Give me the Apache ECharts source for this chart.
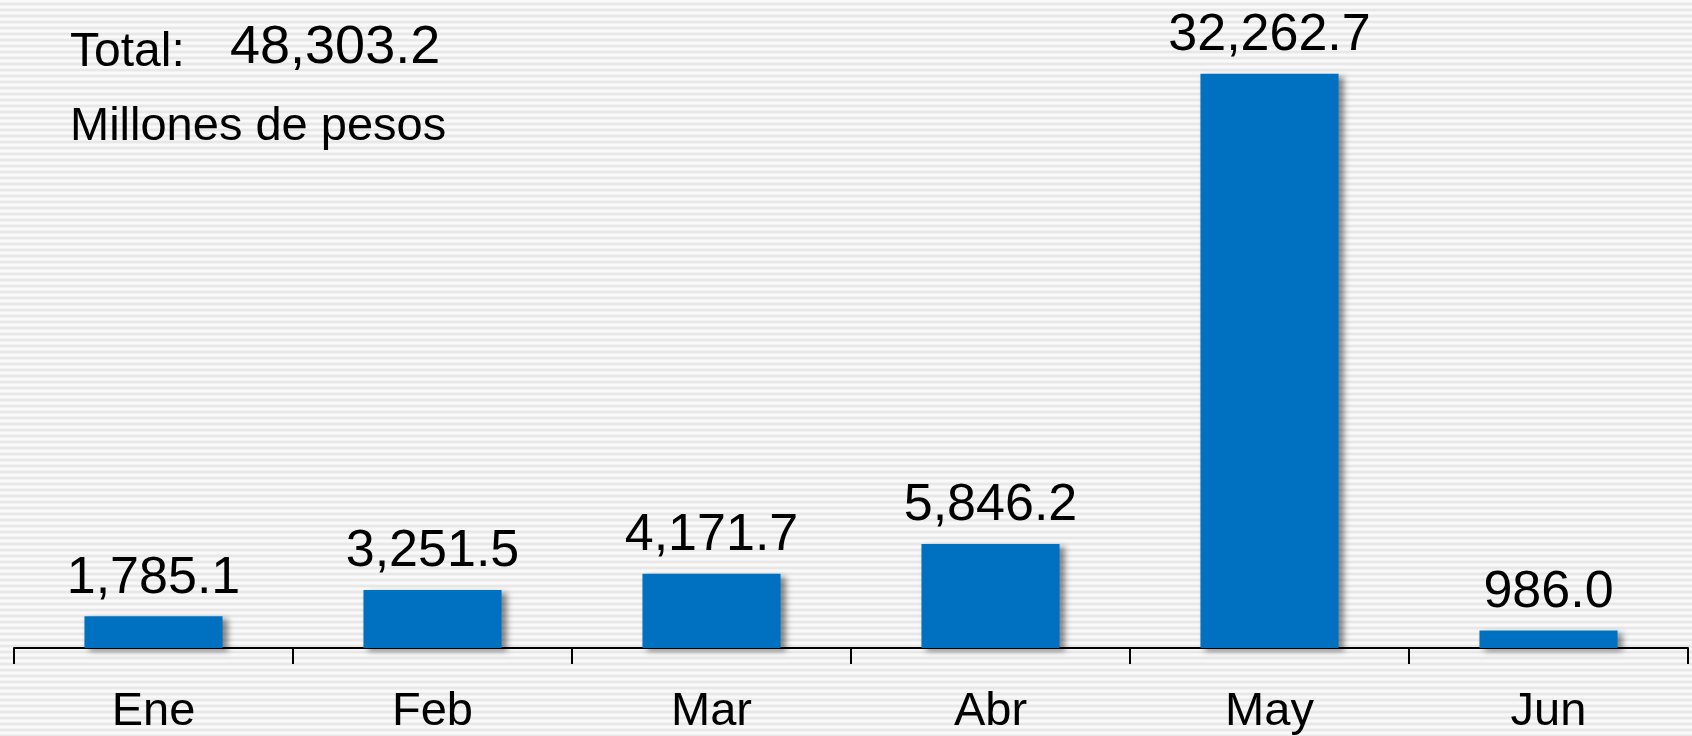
<!DOCTYPE html>
<html>
<head>
<meta charset="utf-8">
<script src="https://cdn.jsdelivr.net/npm/echarts@6/dist/echarts.min.js"></script>
<style>
  html, body { margin: 0; padding: 0; }
  #chart {
    width: 1692px; height: 736px;
    background: repeating-linear-gradient(to bottom,
      #f9f9f9 0px, #f9f9f9 2px, #ebebeb 3px, #e4e4e4 4px, #ebebeb 5px, #f9f9f9 6px);
  }
</style>
</head>
<body>
<div id="chart"></div>
<script>
// Monthly amounts, millions of pesos
const months = ['Ene', 'Feb', 'Mar', 'Abr', 'May', 'Jun'];
const amounts = [1785.1, 3251.5, 4171.7, 5846.2, 32262.7, 986.0];

const FONT = '"Liberation Sans", Arial, sans-serif';
const fmt = v => v.toLocaleString('en-US', { minimumFractionDigits: 1, maximumFractionDigits: 1 });
const total = amounts.reduce((a, b) => a + b, 0);

const chart = echarts.init(document.getElementById('chart'), null, { renderer: 'canvas' });
chart.setOption({
  backgroundColor: 'transparent',
  animation: false,
  grid: { left: 14, right: 4, top: 25, bottom: 86, containLabel: false },
  xAxis: {
    type: 'category',
    data: months,
    boundaryGap: true,
    axisLine: { lineStyle: { color: '#000', width: 2 } },
    axisTick: { show: true, length: 16, lineStyle: { color: '#000', width: 2 } },
    axisLabel: { color: '#000', fontSize: 47, fontFamily: FONT, margin: 41 }
  },
  yAxis: {
    type: 'value', min: 0, max: 35000, show: false,
    splitLine: { show: false }
  },
  series: [{
    type: 'bar',
    data: amounts,
    barWidth: '49.5%',
    z: 1,
    itemStyle: {
      color: '#0070C0',
      shadowColor: 'rgba(0,0,0,0.45)',
      shadowBlur: 6,
      shadowOffsetX: 5,
      shadowOffsetY: 3
    },
    label: {
      show: true,
      position: 'top',
      distance: 12,
      color: '#000',
      fontSize: 52,
      fontFamily: FONT,
      formatter: p => fmt(p.value)
    }
  }],
  graphic: [
    { type: 'text', left: 70, top: 29, style: { text: 'Total:', fontSize: 48, fontFamily: FONT, fill: '#000' } },
    { type: 'text', left: 230, top: 21, style: { text: fmt(total), fontSize: 54, fontFamily: FONT, fill: '#000' } },
    { type: 'text', left: 70, top: 104, style: { text: 'Millones de pesos', fontSize: 47, fontFamily: FONT, fill: '#000' } }
  ]
});
</script>
</body>
</html>
